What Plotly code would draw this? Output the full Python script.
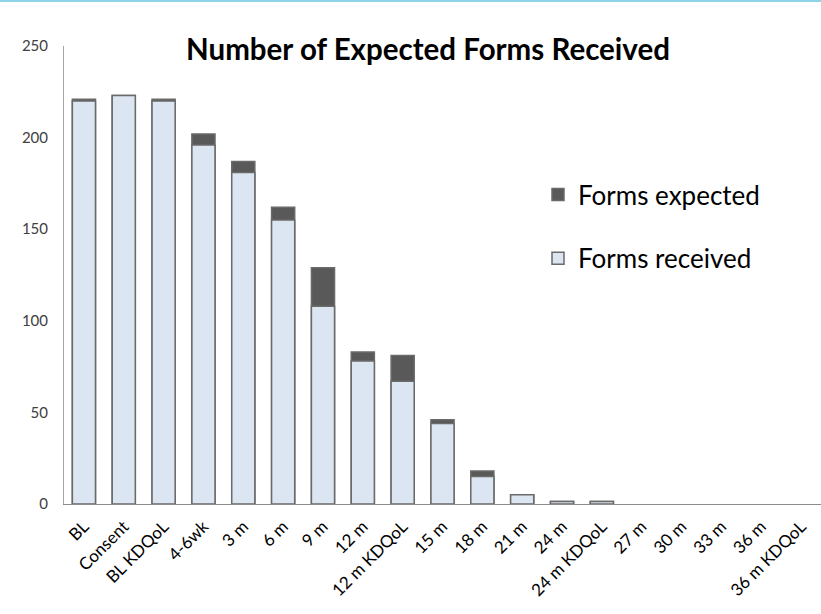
import plotly.graph_objects as go

categories = ["BL", "Consent", "BL KDQoL", "4-6wk", "3 m", "6 m", "9 m", "12 m",
              "12 m KDQoL", "15 m", "18 m", "21 m", "24 m", "24 m KDQoL", "27 m",
              "30 m", "33 m", "36 m", "36 m KDQoL"]
forms_expected = [221, 223, 221, 202, 187, 162, 129, 83, 81, 46, 18, 5, 1.3, 1.3, 0, 0, 0, 0, 0]
forms_received = [220, 223, 220, 196, 181, 155, 108, 78, 67, 44, 15, 5, 1.3, 1.3, 0, 0, 0, 0, 0]
y_ticks = [0, 50, 100, 150, 200, 250]

FONT = "Lato, Carlito, Calibri, sans-serif"
OUTLINE = "#6a6a6a"

def outline_widths(vals):
    return [1.5 if v > 0 else 0 for v in vals]

fig = go.Figure()
fig.add_trace(go.Bar(
    x=categories, y=forms_expected, name="Forms expected",
    marker=dict(color="#595959", line=dict(color=OUTLINE, width=outline_widths(forms_expected))),
    width=0.58, legendgroup="a",
))
fig.add_trace(go.Bar(
    x=categories, y=forms_received, name="Forms received",
    marker=dict(color="#dce6f2", line=dict(color=OUTLINE, width=outline_widths(forms_received))),
    width=0.58, legendgroup="b",
))

plot_top, plot_bottom, plot_left = 46, 504, 64
H, W = 614, 821
ph = plot_bottom - plot_top
pw = W - plot_left

fig.update_layout(
    width=W, height=H,
    margin=dict(l=plot_left, r=0, t=plot_top, b=H - plot_bottom, pad=0),
    barmode="overlay",
    paper_bgcolor="white", plot_bgcolor="white",
    font=dict(family=FONT, color="#404040", size=13),
    title=dict(text="<b>Number of Expected Forms Received</b>",
               font=dict(family=FONT, size=29.5, color="#000000"),
               x=428 / W, xanchor="center", y=1 - 50 / H, yanchor="middle"),
    legend=dict(x=(538 - plot_left) / pw, y=(plot_bottom - 171) / ph,
                xanchor="left", yanchor="top",
                font=dict(family=FONT, size=26, color="#000000"),
                bgcolor="rgba(0,0,0,0)", tracegroupgap=27,
                traceorder="grouped", itemwidth=30),
    showlegend=True,
    xaxis=dict(type="category", tickangle=-45, showgrid=False,
               showline=True, linecolor="#8c8c8c", linewidth=1,
               ticks="", ticklabelstandoff=5,
               tickfont=dict(family=FONT, size=17, color="#000000"),
               range=[-0.5, len(categories) - 0.5]),
    yaxis=dict(range=[0, 250], tickvals=y_ticks, showgrid=False,
               showline=True, linecolor="#a6a6a6", linewidth=1,
               ticks="", ticklabelstandoff=12,
               tickfont=dict(family=FONT, size=15, color="#404040"),
               zeroline=False),
    shapes=[dict(type="line", xref="paper", yref="paper",
                 x0=-plot_left / pw, x1=1.0,
                 y0=(plot_bottom - 1) / ph, y1=(plot_bottom - 1) / ph,
                 line=dict(color="#8fd3ea", width=2))],
)

fig.write_html("out.html", config={"displayModeBar": False},
               post_script="document.body.style.margin='0px';document.body.style.overflow='hidden';")
